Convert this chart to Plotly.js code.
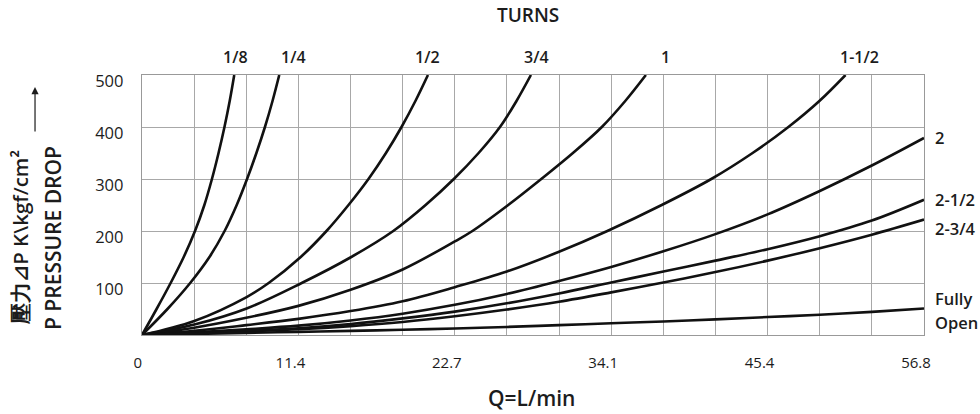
<!DOCTYPE html>
<html>
<head>
<meta charset="utf-8">
<script src="https://cdn.plot.ly/plotly-3.0.1.min.js"></script>
<style>html,body{margin:0;padding:0;background:#fff;}#chart{width:980px;height:414px;}</style>
</head>
<body>
<div id="chart"></div>
<script>
// ---- data (Q in L/min, pressure drop in kgf/cm2) ----
const xTickVals = [0, 11.36, 22.72, 34.08, 45.44, 56.8];
const xTickText = ["\u00a0\u00a00", "11.4", "22.7", "34.1", "45.4", "56.8"];
const yTickVals = [100, 200, 300, 400, 500];

const turnsLabels = ["1/8", "1/4", "1/2", "3/4", "1", "1-1/2", "2", "2-1/2", "2-3/4", "Fully Open"];

const q_1_8 = [0, 1.06, 2.08, 3.03, 3.85, 4.53, 5.08, 5.56, 5.99, 6.37, 6.70];
const p_1_8 = [0, 50, 100, 150, 200, 250, 300, 350, 400, 450, 500];

const q_1_4 = [0, 1.85, 3.50, 4.90, 6.00, 6.88, 7.63, 8.31, 8.93, 9.48, 9.97];
const p_1_4 = [0, 50, 100, 150, 200, 250, 300, 350, 400, 450, 500];

const q_1_2 = [0, 3.8, 7.6, 9.2, 11.53, 13.4, 15.0, 16.45, 17.72, 18.85, 19.86, 20.77];
const p_1_2 = [0, 27, 73, 100, 150, 200, 250, 300, 350, 400, 450, 500];

const q_3_4 = [0, 3.8, 7.6, 11.6, 15.2, 18.25, 20.6, 22.65, 24.45, 26.0, 27.2, 28.25];
const p_3_4 = [0, 20, 51, 100, 150, 200, 250, 300, 350, 400, 450, 500];

const q_1 = [0, 3.79, 7.57, 11.36, 15.15, 18.93, 22.72, 24.0, 26.6, 29.0, 31.3, 33.4, 35.1, 36.6];
const p_1 = [0, 14, 33, 56, 87, 126, 180, 200, 250, 300, 350, 400, 450, 500];

const q_1_1_2 = [0, 3.79, 7.57, 11.36, 15.15, 18.93, 22.72, 26.5, 30.29, 33.8, 37.75, 41.35, 44.35, 46.95, 49.2, 51.1];
const p_1_1_2 = [0, 8, 19, 31, 46, 65, 92, 122, 160, 200, 250, 300, 350, 400, 450, 500];

const qGrid   = [0, 3.79, 7.57, 11.36, 15.15, 18.93, 22.72, 26.5, 30.29, 34.08, 37.87, 41.65, 45.44, 49.23, 53.01, 56.8];
const p_2     = [0, 5, 11, 18, 28, 41, 58, 79, 104, 131, 161, 194, 232, 277, 326, 379];
const p_2_1_2 = [0, 4, 8, 13, 21, 32, 45, 61, 80, 101, 122, 143, 165, 190, 220, 260];
const p_2_3_4 = [0, 3, 7, 11, 17, 25, 36, 49, 64, 82, 101, 121, 143, 167, 193, 222];
const p_open  = [0, 2, 4, 6, 8, 10, 12.5, 15.5, 19, 22.5, 26, 30, 34.5, 39, 44.5, 51];

const seriesX = [q_1_8, q_1_4, q_1_2, q_3_4, q_1, q_1_1_2, qGrid, qGrid, qGrid, qGrid];
const seriesY = [p_1_8, p_1_4, p_1_2, p_3_4, p_1, p_1_1_2, p_2, p_2_1_2, p_2_3_4, p_open];

// ---- build traces ----
const traces = seriesX.map((xs, i) => ({
  type: "scatter", mode: "lines", x: xs, y: seriesY[i], name: turnsLabels[i],
  line: {color: "#111", width: 2.6, shape: "spline", smoothing: 1},
  hoverinfo: "x+y+name"
}));

const FONT = "Open Sans, DejaVu Sans, sans-serif";
const txt = "#1c1c1c";
function lab(text, x, y, size, xanchor, extra) {
  return Object.assign({text: text, x: x, y: y, xref: "paper", yref: "paper",
    showarrow: false, xanchor: xanchor || "center", yanchor: "middle",
    font: {family: FONT, size: size, color: txt, weight: 600}}, extra || {});
}

const annotations = [
  lab("TURNS", 0.4936, 1.2308, 19),
  lab("1/8", 0.1202, 1.069, 16),
  lab("1/4", 0.1931, 1.069, 16),
  lab("1/2", 0.3657, 1.069, 16),
  lab("3/4", 0.5051, 1.069, 16),
  lab("1", 0.6688, 1.069, 16),
  lab("1-1/2", 0.9169, 1.069, 16),
  lab("2", 1.0115, 0.7577, 16.5, "left"),
  lab("2-1/2", 1.0115, 0.523, 16.5, "left"),
  lab("2-3/4", 1.0115, 0.4115, 16.5, "left"),
  lab("Fully", 1.0115, 0.1385, 16.5, "left"),
  lab("Open", 1.0115, 0.0462, 16.5, "left"),
  lab("Q=L/min", 0.4987, -0.2423, 21),
  lab("壓力⊿P K\\kgf/cm²", -0.156, 0.373, 20.5, "center", {textangle: -90}),
  lab("P PRESSURE DROP", -0.1138, 0.373, 21, "center", {textangle: -90}),
  {text: "", x: -0.1368, y: 0.9538, xref: "paper", yref: "paper", showarrow: true,
   ax: 0, ay: 46, axref: "pixel", ayref: "pixel", arrowhead: 2, arrowsize: 1.2,
   arrowwidth: 1.2, arrowcolor: txt}
];

const layout = {
  width: 980, height: 414,
  margin: {l: 142, r: 56, t: 75, b: 79},
  paper_bgcolor: "#fff", plot_bgcolor: "#fff",
  showlegend: false,
  font: {family: FONT, size: 14, color: txt},
  xaxis: {
    range: [0, 56.8], tickmode: "array", tickvals: xTickVals, ticktext: xTickText,
    showgrid: true, gridcolor: "#a8a8a8", gridwidth: 1,
    minor: {tickmode: "linear", tick0: 0, dtick: 56.8 / 15, showgrid: true, gridcolor: "#a8a8a8", gridwidth: 1, ticks: ""},
    zeroline: false, showline: true, mirror: true, linecolor: "#999", linewidth: 1.2,
    ticks: "outside", ticklen: 14, tickcolor: "rgba(0,0,0,0)",
    ticklabelshift: -8,
    tickfont: {family: FONT, size: 15, color: txt}
  },
  yaxis: {
    range: [0, 500], tickmode: "array", tickvals: yTickVals,
    showgrid: true, gridcolor: "#a8a8a8", gridwidth: 1,
    zeroline: false, showline: true, mirror: true, linecolor: "#999", linewidth: 1.2,
    ticks: "outside", ticklen: 14, tickcolor: "rgba(0,0,0,0)",
    ticklabelshift: 6,
    tickfont: {family: FONT, size: 16.5, color: txt, weight: 500}
  },
  annotations: annotations
};

Plotly.newPlot("chart", traces, layout, {displayModeBar: false, staticPlot: true});
</script>
</body>
</html>
